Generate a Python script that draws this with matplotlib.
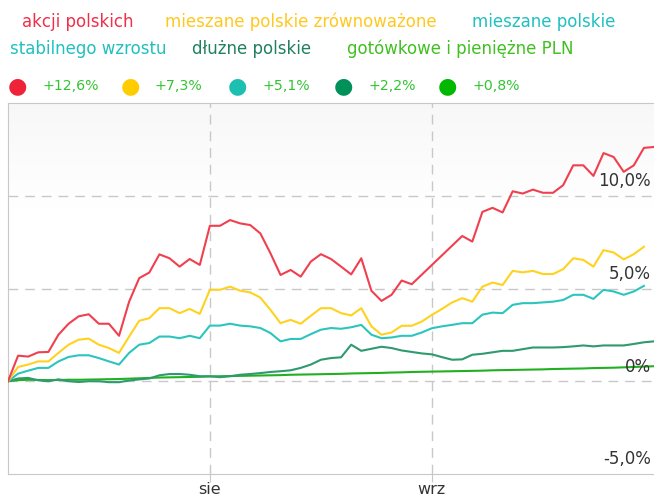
import numpy as np
import matplotlib.pyplot as plt

# sesje (indeksy dni roboczych)
n_days = 65
month_ticks = [20, 42]
month_labels = ["sie", "wrz"]

names = ["akcji polskich", "mieszane polskie zrównoważone", "mieszane polskie stabilnego wzrostu",
         "dłużne polskie", "gotówkowe i pieniężne PLN"]
totals = ["+12,6%", "+7,3%", "+5,1%", "+2,2%", "+0,8%"]

akcji = [0, 1.38, 1.33, 1.56, 1.58, 2.51, 3.10, 3.50, 3.61, 3.10, 3.10, 2.45, 4.29, 5.56, 5.86,
         6.84, 6.63, 6.18, 6.59, 6.27, 8.38, 8.38, 8.69, 8.51, 8.42, 7.97, 6.90, 5.73, 6.00, 5.64,
         6.45, 6.85, 6.59, 6.18, 5.76, 6.63, 4.88, 4.33, 4.66, 5.43, 5.23, None, None, None, None,
         7.83, 7.53, 9.13, 9.35, 9.10, 10.24, 10.12, 10.33, 10.16, 10.16, 10.57, 11.64, 11.64, 11.07,
         12.30, 12.09, 11.29, 11.64, 12.58, 12.63]
zrown = [0, 0.77, 0.90, 1.07, 1.07, 1.53, 1.97, 2.24, 2.30, 1.97, 1.79, 1.53, 2.41, 3.26, 3.40,
         3.94, 3.94, 3.67, 3.90, 3.63, 4.93, 4.93, 5.10, 4.88, 4.79, 4.51, 3.85, 3.13, 3.31, 3.10,
         3.53, 3.94, 3.94, 3.67, 3.55, 3.94, 2.96, 2.51, 2.63, 2.99, 2.99, 3.22, 3.58, 3.90, 4.25,
         4.48, 4.29, 5.10, 5.32, 5.19, 5.95, 5.87, 5.95, 5.78, 5.78, 6.04, 6.63, 6.54, 6.18,
         7.07, 6.94, 6.57, 6.85, 7.25, None]
stab = [0, 0.41, 0.57, 0.72, 0.72, 1.07, 1.31, 1.40, 1.40, 1.25, 1.07, 0.90, 1.53, 1.97, 2.06,
        2.41, 2.41, 2.32, 2.45, 2.32, 3.00, 3.00, 3.10, 3.00, 2.96, 2.87, 2.60, 2.15, 2.28, 2.28,
        2.54, 2.78, 2.87, 2.83, 2.91, 3.04, 2.51, 2.32, 2.36, 2.45, 2.45, 2.63, 2.86, 2.96, 3.04,
        3.13, 3.13, 3.59, 3.70, 3.67, 4.12, 4.21, 4.21, 4.25, 4.29, 4.38, 4.66, 4.66, 4.44,
        4.93, 4.84, 4.66, 4.84, 5.14, None]
dluzne = [0, 0.15, 0.18, 0.05, 0.0, 0.10, 0.0, -0.04, 0.0, 0.0, -0.05, -0.05, 0.04, 0.10, 0.15,
          0.32, 0.39, 0.39, 0.35, 0.27, 0.27, 0.22, 0.27, 0.35, 0.39, 0.44, 0.50, 0.54, 0.59, 0.72,
          0.90, 1.16, 1.25, 1.29, 1.97, 1.64, 1.75, 1.86, 1.79, 1.66, 1.58, 1.50, 1.45, 1.30, 1.16,
          1.18, 1.43, 1.48, 1.56, 1.64, 1.64, 1.73, 1.82, 1.82, 1.82, 1.84, 1.88, 1.93, 1.88,
          1.93, 1.93, 1.93, 2.01, 2.10, 2.15]
gotowk = [0, 0.06, 0.08, 0.07, 0.06, 0.07, 0.08, 0.08, 0.09, 0.10, 0.11, 0.12, 0.14, 0.16, 0.18,
          0.20, 0.21, 0.22, 0.23, 0.24, 0.26, 0.27, 0.28, 0.29, 0.30, 0.31, 0.32, 0.33, 0.35, 0.36,
          0.37, 0.38, 0.39, 0.40, 0.42, 0.43, 0.44, 0.45, 0.47, 0.48, 0.50, 0.51, 0.52, 0.53, 0.54,
          0.55, 0.56, 0.57, 0.59, 0.60, 0.61, 0.62, 0.63, 0.64, 0.66, 0.67, 0.68, 0.69, 0.71,
          0.72, 0.73, 0.75, 0.77, 0.79, 0.81]

series = [akcji, zrown, stab, dluzne, gotowk]
line_colors = ["#f0404f", "#ffd21f", "#2cc5bd", "#2f9a6f", "#22b022"]
dot_colors = ["#ee2238", "#ffcc00", "#1dc0b0", "#00905a", "#00b800"]
name_colors = ["#f0304a", "#ffc820", "#20c0c0", "#208060", "#40c020"]

fig = plt.figure(figsize=(6.54, 5.0), dpi=100)
ax = fig.add_axes([8 / 654, 26 / 500, 646 / 654, 371 / 500])

# jasne tlo u gory wykresu
grad = np.linspace(0, 1, 100).reshape(-1, 1)
ax.imshow(grad, extent=[0, n_days - 1, 9, 15], cmap="Greys", vmin=0, vmax=16,
          aspect="auto", origin="lower", zorder=0)

for vals, c in zip(series[::-1], line_colors[::-1]):
    x = np.arange(len(vals))
    y = np.array([np.nan if v is None else v for v in vals], dtype=float)
    ok = np.isfinite(y)
    ax.plot(x[ok], y[ok], color=c, lw=1.5, zorder=3)

ax.set_xlim(0, n_days - 1)
ax.set_ylim(-5, 15)

for v in [0, 5, 10]:
    ax.axhline(v, color="#c8c8c8", lw=1, dashes=(7, 5), zorder=1)
for t in month_ticks:
    ax.axvline(t, color="#c8c8c8", lw=1, dashes=(7, 5), zorder=1)

ax.set_xticks(month_ticks)
ax.set_xticklabels(month_labels, fontsize=11.5, color="#333333")
ax.set_yticks([])
ax.tick_params(axis="x", length=6, color="#c8c8c8", pad=0)

for s in ["top", "bottom", "left"]:
    ax.spines[s].set_color("#c8c8c8")
ax.spines["right"].set_visible(False)

ylabels = {10: "10,0%", 5: "5,0%", 0: "0%", -5: "-5,0%"}
for v, txt in ylabels.items():
    ax.annotate(txt, xy=(1, v), xycoords=("axes fraction", "data"), xytext=(-2, 4),
                textcoords="offset points", ha="right", va="bottom", fontsize=12,
                color="#333333", zorder=5)

# legenda - nazwy
fs = 12
fig.text(22 / 654, 1 - 22 / 500, names[0], color=name_colors[0], fontsize=fs, va="center")
fig.text(165 / 654, 1 - 22 / 500, names[1], color=name_colors[1], fontsize=fs, va="center")
fig.text(472 / 654, 1 - 22 / 500, "mieszane polskie", color=name_colors[2], fontsize=fs, va="center")
fig.text(10 / 654, 1 - 49 / 500, "stabilnego wzrostu", color=name_colors[2], fontsize=fs, va="center")
fig.text(192 / 654, 1 - 49 / 500, names[3], color=name_colors[3], fontsize=fs, va="center")
fig.text(347 / 654, 1 - 49 / 500, names[4], color=name_colors[4], fontsize=fs, va="center")

# legenda - wyniki
dot_x = [17, 130, 237, 343, 447]
for dx, c, t in zip(dot_x, dot_colors, totals):
    fig.text(dx / 654, 1 - 86 / 500, "\u25cf", color=c, fontsize=16, ha="center", va="center")
    fig.text((dx + 25) / 654, 1 - 86 / 500, t, color="#33c433", fontsize=10.2, va="center")

fig.savefig("out.png", dpi=100)
